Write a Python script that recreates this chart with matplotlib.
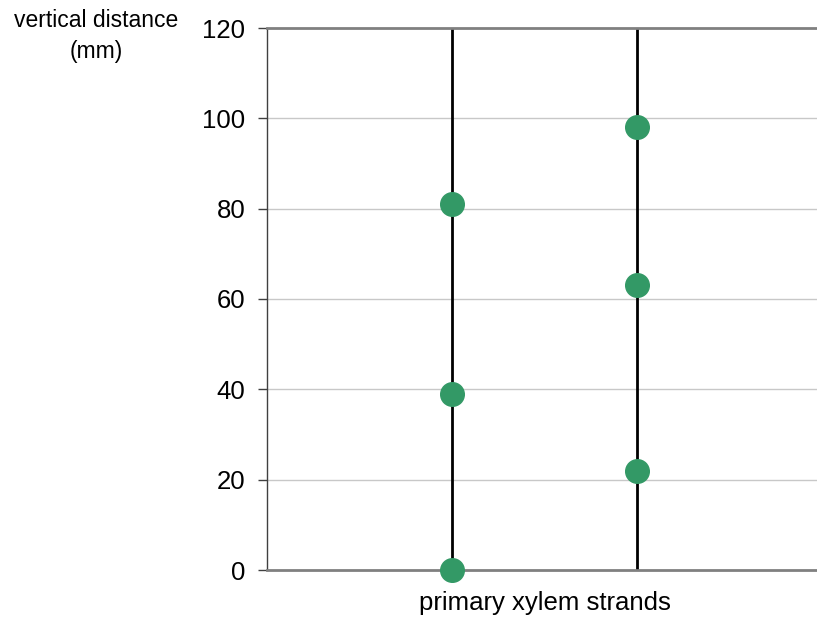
import matplotlib
matplotlib.use('Agg')
import matplotlib.pyplot as plt

plt.rcParams['font.family'] = ['Liberation Sans', 'DejaVu Sans']

# strand positions and the vertical distances of the dots (mm)
strands = [1, 2]
strand1_y = [0, 39, 81]
strand2_y = [22, 63, 98]
yticks = [0, 20, 40, 60, 80, 100, 120]

W, H = 817, 623
fig = plt.figure(figsize=(W / 100, H / 100), dpi=100)
ax = fig.add_axes([267 / W, (H - 570) / H, (822 - 267) / W, (570 - 28) / H])

ax.set_xlim(0, 3)
ax.set_ylim(0, 120)

for y in yticks[1:-1]:
    ax.axhline(y, color='#c8c8c8', lw=1, zorder=1)

for x in strands:
    ax.plot([x, x], [0, 120], color='black', lw=2, zorder=2)

green = '#339966'
ax.plot([strands[0]] * len(strand1_y), strand1_y, 'o', ms=17, color=green,
        clip_on=False, zorder=3)
ax.plot([strands[1]] * len(strand2_y), strand2_y, 'o', ms=17, color=green,
        clip_on=False, zorder=3)

ax.set_yticks(yticks)
ax.set_yticklabels([str(v) for v in yticks], fontsize=18.5)
ax.set_xticks([])
ax.tick_params(axis='y', length=6.5, width=1, color='#404040', pad=9)

ax.spines['right'].set_visible(False)
ax.spines['left'].set_color('#404040')
ax.spines['left'].set_linewidth(1)
for s in ['top', 'bottom']:
    ax.spines[s].set_color('#808080')
    ax.spines[s].set_linewidth(2)

ax.set_xlabel('primary xylem strands', fontsize=18.5, labelpad=15)
fig.text(96 / W, 1 - 36 / H, 'vertical distance\n(mm)', ha='center', va='center',
         fontsize=16.5, linespacing=1.45)

fig.savefig('out.png', dpi=100)
